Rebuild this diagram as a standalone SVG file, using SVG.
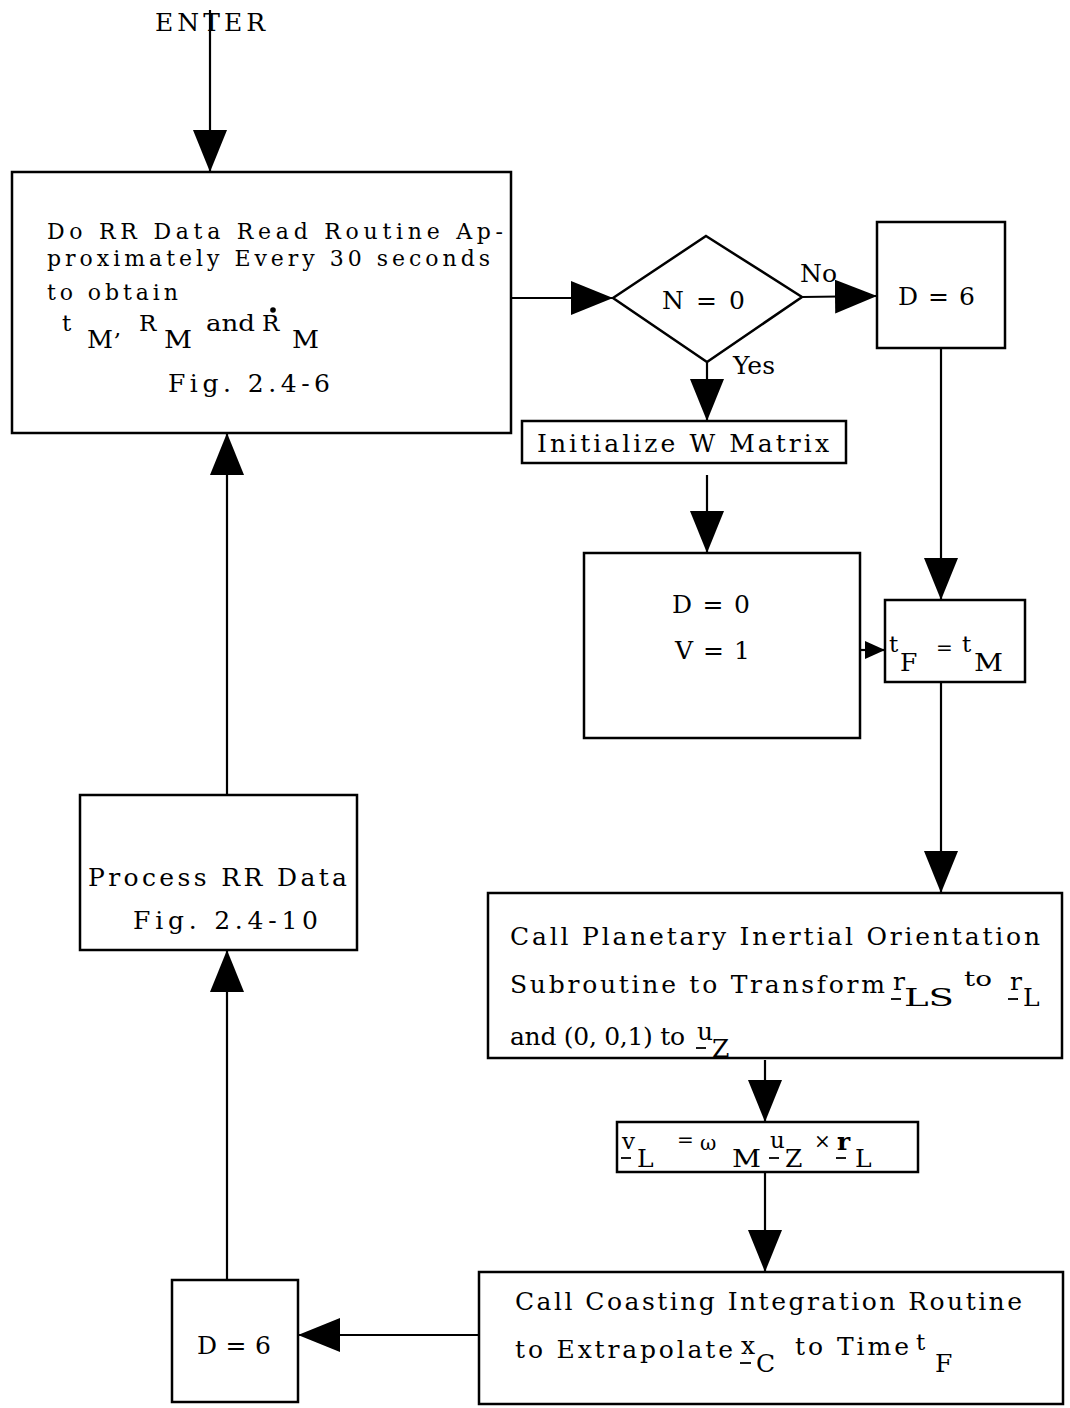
<svg xmlns="http://www.w3.org/2000/svg" width="1070" height="1408" viewBox="0 0 1070 1408">
<defs>
<style>
.box{fill:#fff;stroke:#000;stroke-width:2.5}
.ln{fill:none;stroke:#000;stroke-width:2.2}
.t{font-family:"DejaVu Serif","Liberation Serif",serif;font-size:25px;fill:#000}
.t2{font-family:"DejaVu Serif","Liberation Serif",serif;font-size:22px;fill:#000}
.s{font-family:"DejaVu Serif","Liberation Serif",serif;font-size:23px;fill:#000}
.sm{font-family:"DejaVu Serif","Liberation Serif",serif;font-size:20px;fill:#000}
.ul{stroke:#000;stroke-width:1.8}
</style>
<marker id="big" viewBox="0 0 42 34" refX="42" refY="17" markerWidth="42" markerHeight="34" markerUnits="userSpaceOnUse" orient="auto">
<path d="M0,0 L42,17 L0,34 Z" fill="#000"/>
</marker>
<marker id="small" viewBox="0 0 20 18" refX="20" refY="9" markerWidth="20" markerHeight="18" markerUnits="userSpaceOnUse" orient="auto">
<path d="M0,0 L20,9 L0,18 Z" fill="#000"/>
</marker>
</defs>
<rect width="1070" height="1408" fill="#fff"/>

<g id="connectors">
<line class="ln" x1="210" y1="10" x2="210" y2="172" marker-end="url(#big)"/>
<line class="ln" x1="511" y1="298" x2="613" y2="298" marker-end="url(#big)"/>
<line class="ln" x1="802" y1="297" x2="877" y2="296" marker-end="url(#big)"/>
<line class="ln" x1="707" y1="362" x2="707" y2="421" marker-end="url(#big)"/>
<line class="ln" x1="707" y1="475" x2="707" y2="553" marker-end="url(#big)"/>
<line class="ln" x1="860" y1="650" x2="885" y2="650" marker-end="url(#small)"/>
<line class="ln" x1="941" y1="348" x2="941" y2="600" marker-end="url(#big)"/>
<line class="ln" x1="941" y1="682" x2="941" y2="893" marker-end="url(#big)"/>
<line class="ln" x1="765" y1="1060" x2="765" y2="1122" marker-end="url(#big)"/>
<line class="ln" x1="765" y1="1172" x2="765" y2="1272" marker-end="url(#big)"/>
<line class="ln" x1="479" y1="1335" x2="298" y2="1335" marker-end="url(#big)"/>
<line class="ln" x1="227" y1="1280" x2="227" y2="950" marker-end="url(#big)"/>
<line class="ln" x1="227" y1="795" x2="227" y2="433" marker-end="url(#big)"/>
</g>

<g id="enter">
<text class="t" x="155" y="31" textLength="110" lengthAdjust="spacing">ENTER</text>
</g>

<g id="read">
<rect class="box" x="12" y="172" width="499" height="261"/>
<text class="t2" x="47" y="239" textLength="456" lengthAdjust="spacing">Do RR Data Read Routine Ap-</text>
<text class="t2" x="47" y="266" textLength="443" lengthAdjust="spacing">proximately Every 30 seconds</text>
<text class="t2" x="47" y="300" textLength="131" lengthAdjust="spacing">to obtain</text>
<text class="s" x="62" y="331">t</text>
<text class="t" x="87" y="348" textLength="26" lengthAdjust="spacingAndGlyphs">M</text>
<text class="s" x="114" y="336">,</text>
<text class="s" x="139" y="331">R</text>
<text class="t" x="164" y="348" textLength="28" lengthAdjust="spacingAndGlyphs">M</text>
<text class="s" x="206" y="331" textLength="49" lengthAdjust="spacingAndGlyphs">and</text>
<text class="s" x="262" y="331">R</text>
<circle cx="273" cy="310" r="2.8" fill="#000"/>
<text class="t" x="292" y="348" textLength="27" lengthAdjust="spacingAndGlyphs">M</text>
<text class="t" x="168" y="392" textLength="162" lengthAdjust="spacing">Fig. 2.4-6</text>
</g>

<g id="decision">
<polygon class="box" points="706,236 802,297 707,362 613,298"/>
<text class="t" x="662" y="309" textLength="83" lengthAdjust="spacing">N = 0</text>
<text class="t" x="800" y="282">No</text>
<text class="t" x="733" y="374">Yes</text>
</g>

<g id="d6top">
<rect class="box" x="877" y="222" width="128" height="126"/>
<text class="t" x="898" y="305" textLength="77" lengthAdjust="spacing">D = 6</text>
</g>

<g id="initw">
<rect class="box" x="522" y="421" width="324" height="42"/>
<text class="t" x="537" y="452" textLength="292" lengthAdjust="spacing">Initialize W Matrix</text>
</g>

<g id="d0v1">
<rect class="box" x="584" y="553" width="276" height="185"/>
<text class="t" x="672" y="613" textLength="78" lengthAdjust="spacing">D = 0</text>
<text class="t" x="675" y="659" textLength="75" lengthAdjust="spacing">V = 1</text>
</g>

<g id="tftm">
<rect class="box" x="885" y="600" width="140" height="82"/>
<text class="s" x="889" y="652">t</text>
<text class="t" x="900" y="671">F</text>
<text class="sm" x="936" y="655">=</text>
<text class="s" x="962" y="652">t</text>
<text class="t" x="974" y="671" textLength="29" lengthAdjust="spacingAndGlyphs">M</text>
</g>

<g id="planetary">
<rect class="box" x="488" y="893" width="574" height="165"/>
<text class="t" x="510" y="945" textLength="530" lengthAdjust="spacing">Call Planetary Inertial Orientation</text>
<text class="t" x="510" y="993" textLength="375" lengthAdjust="spacing">Subroutine to Transform</text>
<text class="t" x="893" y="990">r</text>
<line class="ul" x1="891" y1="999" x2="901" y2="999"/>
<text class="t" x="904" y="1006" textLength="50" lengthAdjust="spacingAndGlyphs">LS</text>
<text class="sm" x="964" y="986" textLength="28" lengthAdjust="spacingAndGlyphs">to</text>
<text class="t" x="1010" y="990">r</text>
<line class="ul" x1="1008" y1="999" x2="1018" y2="999"/>
<text class="t" x="1023" y="1006">L</text>
<text class="t" x="510" y="1045" textLength="175" lengthAdjust="spacing">and (0, 0,1) to</text>
<text class="t" x="697" y="1040">u</text>
<line class="ul" x1="696" y1="1048" x2="706" y2="1048"/>
<text class="t" x="712" y="1057">Z</text>
</g>

<g id="vl">
<rect class="box" x="617" y="1122" width="301" height="50"/>
<text class="s" x="622" y="1149">v</text>
<line class="ul" x1="621" y1="1158" x2="631" y2="1158"/>
<text class="t" x="637" y="1167">L</text>
<text class="sm" x="677" y="1147">=</text>
<text class="sm" x="700" y="1150">ω</text>
<text class="t" x="732" y="1167" textLength="29" lengthAdjust="spacingAndGlyphs">M</text>
<text class="s" x="770" y="1148">u</text>
<line class="ul" x1="769" y1="1158" x2="779" y2="1158"/>
<text class="t" x="785" y="1167">Z</text>
<text class="sm" x="814" y="1148">×</text>
<text class="t" x="837" y="1150" font-weight="bold">r</text>
<line class="ul" x1="836" y1="1158" x2="846" y2="1158"/>
<text class="t" x="855" y="1167">L</text>
</g>

<g id="coasting">
<rect class="box" x="479" y="1272" width="584" height="132"/>
<text class="t" x="515" y="1310" textLength="507" lengthAdjust="spacing">Call Coasting Integration Routine</text>
<text class="t" x="515" y="1358" textLength="218" lengthAdjust="spacing">to Extrapolate</text>
<text class="t" x="741" y="1354">x</text>
<line class="ul" x1="740" y1="1363" x2="751" y2="1363"/>
<text class="t" x="756" y="1372">C</text>
<text class="t" x="795" y="1355" textLength="114" lengthAdjust="spacing">to Time</text>
<text class="s" x="916" y="1350">t</text>
<text class="t" x="935" y="1372">F</text>
</g>

<g id="d6bottom">
<rect class="box" x="172" y="1280" width="126" height="122"/>
<text class="t" x="197" y="1354" textLength="74" lengthAdjust="spacing">D = 6</text>
</g>

<g id="process">
<rect class="box" x="80" y="795" width="277" height="155"/>
<text class="t" x="88" y="886" textLength="259" lengthAdjust="spacing">Process RR Data</text>
<text class="t" x="133" y="929" textLength="185" lengthAdjust="spacing">Fig. 2.4-10</text>
</g>
</svg>
